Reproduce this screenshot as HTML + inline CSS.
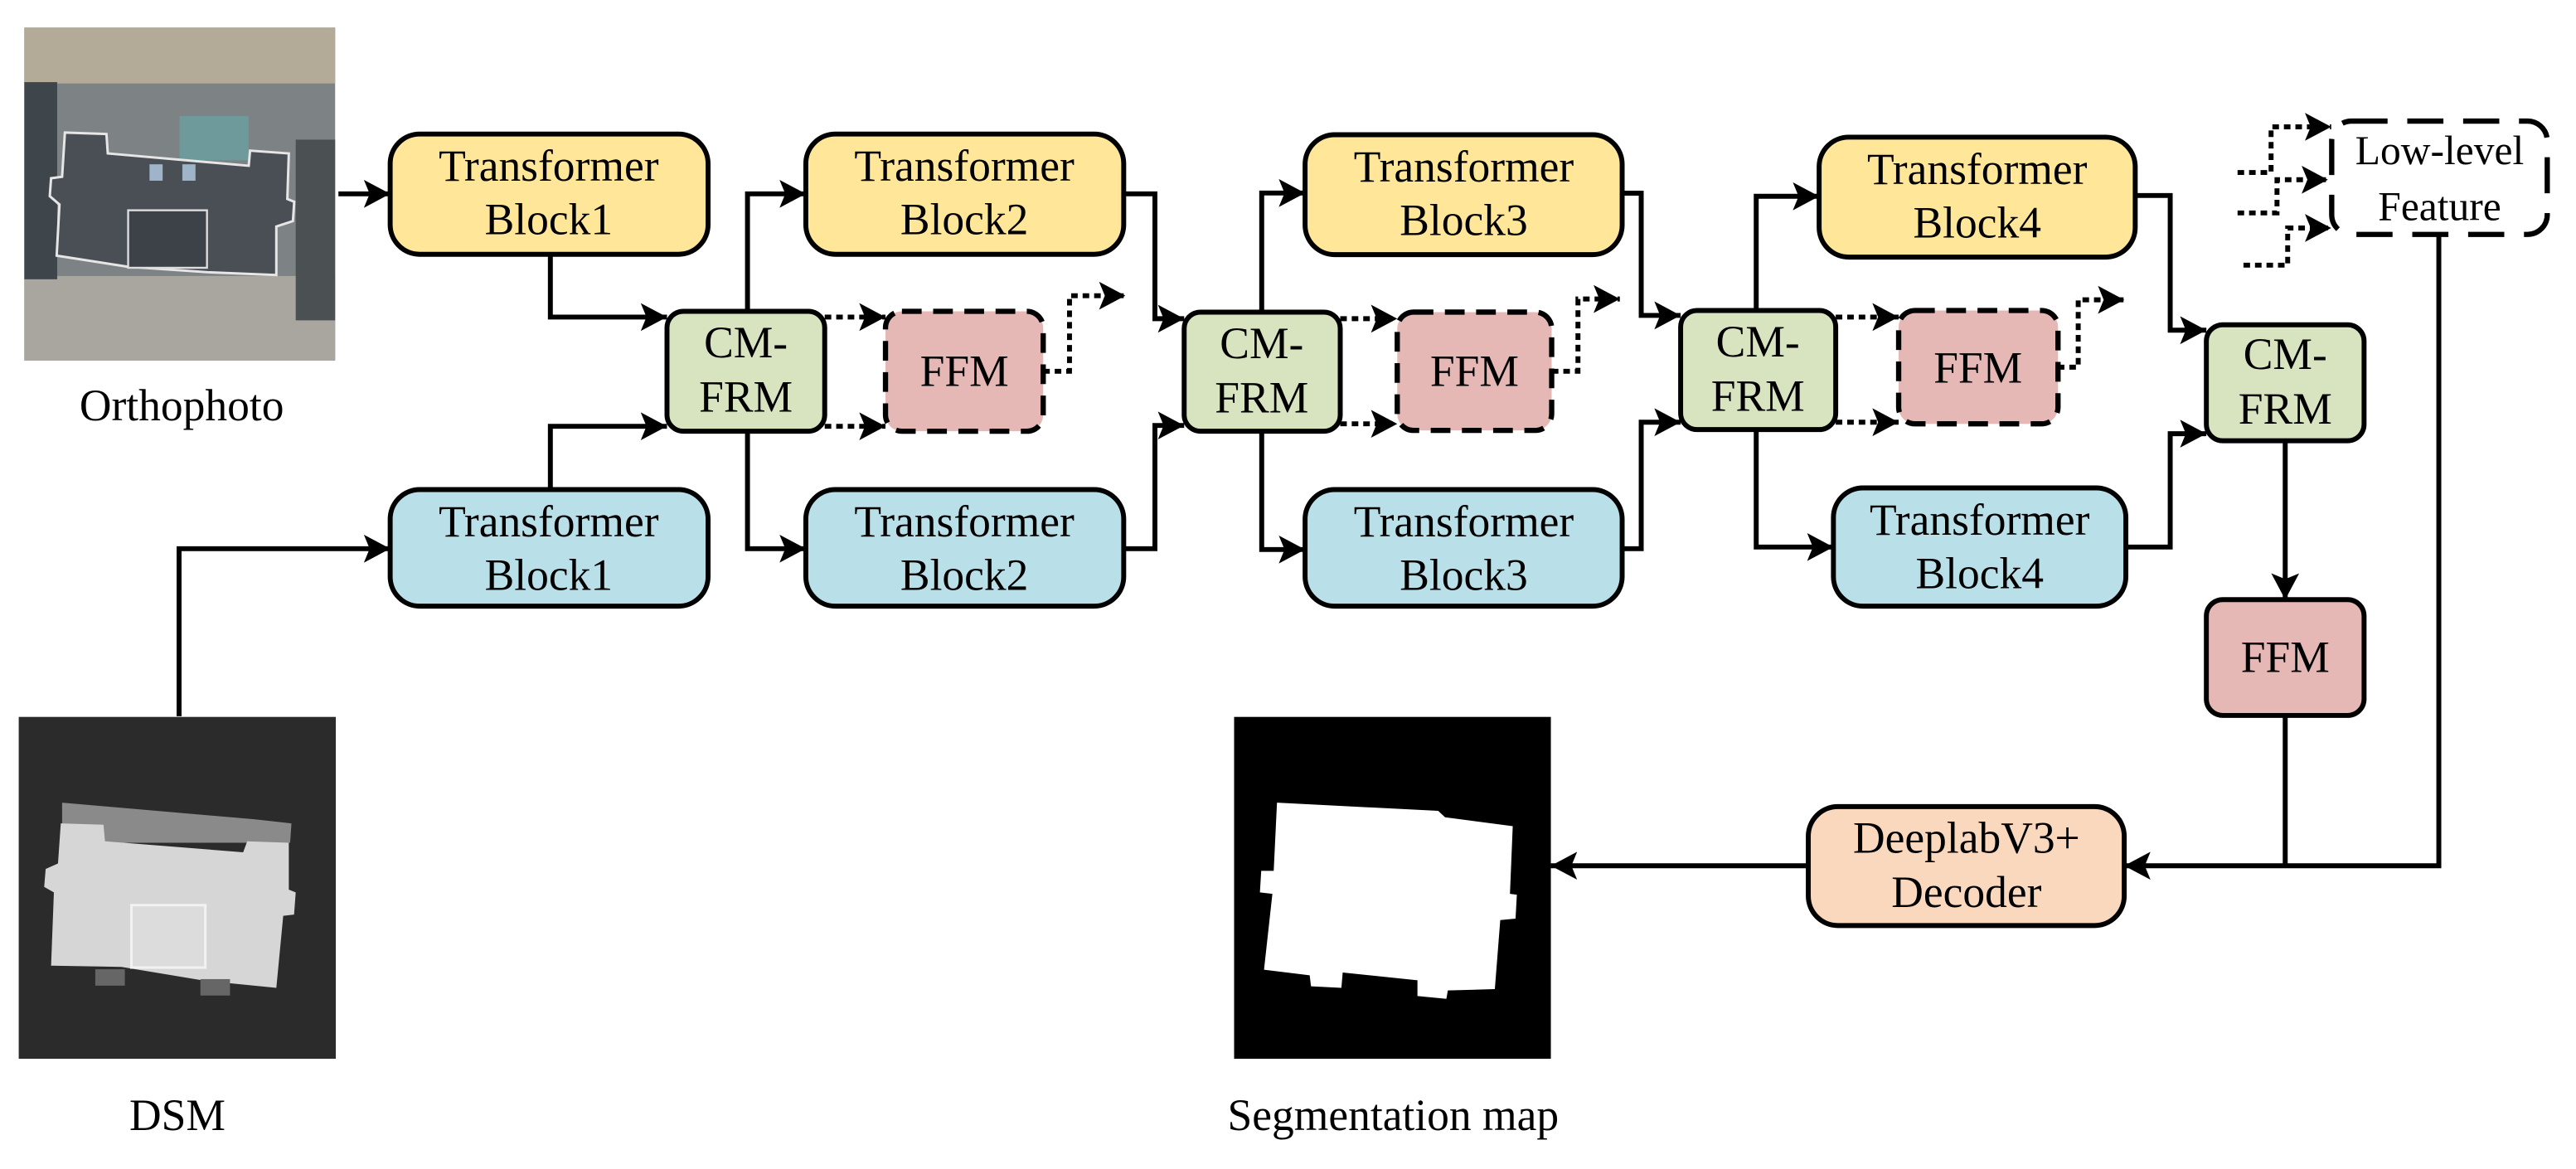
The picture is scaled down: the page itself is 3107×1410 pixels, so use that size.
<!DOCTYPE html>
<html><head><meta charset="utf-8"><style>
html,body{margin:0;padding:0;background:#fff;}
svg{display:block;}
svg text{font-family:"Liberation Serif","Times New Roman",Times,"DejaVu Serif",serif;font-size:27px;fill:#000;text-anchor:middle;}
</style></head><body>
<svg width="3107" height="1410" viewBox="0 0 1568 711.6" preserveAspectRatio="none" xmlns="http://www.w3.org/2000/svg" font-family="Liberation Serif, Times New Roman, serif">
<defs>
<marker id="a" markerUnits="userSpaceOnUse" markerWidth="18" markerHeight="18" refX="16" refY="8.5" orient="auto">
<path d="M0,0 L16,8.5 L0,17 L3.5,8.5 z" fill="#000"/>
</marker>
</defs>
<rect x="0" y="0" width="1568" height="711.6" fill="#fff"/>

<!-- Orthophoto -->
<g>
<rect x="14.8" y="16.8" width="189.2" height="202.7" fill="#7d8284"/>
<rect x="14.8" y="16.8" width="189.2" height="34" fill="#b3aa98"/>
<rect x="14.8" y="168" width="189.2" height="51.5" fill="#a9a69f"/>
<rect x="14.8" y="50" width="20" height="120" fill="#3e454b"/>
<rect x="180" y="85" width="24" height="110" fill="#4b5152"/>
<rect x="109.3" y="70.6" width="42" height="27" fill="#6f9a9c"/>
<polygon points="39.5,80.7 64.8,81.6 65.6,93.4 151.4,100.9 152.2,91.7 175.8,93.4 174.9,121.1 179.1,122.8 178.3,134.6 168.2,137.9 168.2,167.4 126.2,165.7 77.4,162.3 34.5,155.6 36.2,124.5 30.3,119.4 31.1,108.5 37.8,107.6" fill="#4a4f56" stroke="#e6e6e6" stroke-width="1.5"/>
<rect x="91" y="100" width="8" height="10" fill="#9fb4c8"/>
<rect x="111" y="100" width="8" height="10" fill="#9fb4c8"/>
<rect x="78" y="128" width="48" height="35" fill="#3d4248" stroke="#ddd" stroke-width="1.2"/>
</g>
<text x="110.6" y="256">Orthophoto</text>

<!-- DSM -->
<g>
<rect x="11.4" y="436.4" width="193" height="208.1" fill="#2b2b2b"/>
<polygon points="37.8,488.6 154.7,498.7 177.4,501.2 176.6,513 37.8,513" fill="#8a8a8a"/>
<polygon points="37,501.2 63,502 63.9,512.1 148,518.8 150.5,512.1 175.8,513 175.8,541.5 180,543.2 179,556.7 172.4,557.5 168.2,601.3 124.5,597 74,588.6 31.1,587.8 32.8,543.2 26.9,539.9 27.8,529 35.3,525.6" fill="#d6d6d6"/>
<rect x="80" y="551" width="45" height="38" fill="#dcdcdc" stroke="#f2f2f2" stroke-width="1.5"/>
<rect x="58" y="590" width="18" height="10" fill="#666"/>
<rect x="122" y="596" width="18" height="10" fill="#666"/>
</g>
<text x="108" y="688">DSM</text>

<!-- Segmentation map -->
<rect x="751.2" y="436.4" width="192.8" height="208.1" fill="#000"/>
<polygon points="777.3,488.6 875.4,493.6 879.6,497.5 920.8,502.9 919.1,544.1 923.3,544.6 922.5,559.2 913.2,560.1 909.9,602.1 881.3,602.9 880.4,608 862.8,606.3 862.8,596.7 817.3,592 816.5,601.3 798,600.4 797.2,593.7 769.4,590.3 774.5,544.1 766.9,543.2 767.7,530.1 775.3,530.1" fill="#fff"/>
<text x="848" y="688">Segmentation map</text>

<!-- connectors -->
<g fill="none" stroke="#000" stroke-width="3" stroke-linejoin="miter">
<path d="M206,118 H237.5" marker-end="url(#a)"/>
<path d="M335,155 V193 H406" marker-end="url(#a)"/>
<path d="M335,298 V259.5 H406" marker-end="url(#a)"/>
<path d="M109,436 V334 H237.5" marker-end="url(#a)"/>
<path d="M455,189.5 V118 H490.5" marker-end="url(#a)"/>
<path d="M455,262.5 V334 H490.5" marker-end="url(#a)"/>
<path d="M684,118 H703 V194 H720.8" marker-end="url(#a)"/>
<path d="M684,334 H703 V259 H720.8" marker-end="url(#a)"/>
<path d="M768,190 V117.5 H794.4" marker-end="url(#a)"/>
<path d="M768,262.5 V334.5 H794.4" marker-end="url(#a)"/>
<path d="M987,117.6 H999 V192 H1023" marker-end="url(#a)"/>
<path d="M987,334 H999 V257 H1023" marker-end="url(#a)"/>
<path d="M1069,189 V119.5 H1107.3" marker-end="url(#a)"/>
<path d="M1069,261.5 V333 H1116" marker-end="url(#a)"/>
<path d="M1299.7,119 H1321 V201 H1343" marker-end="url(#a)"/>
<path d="M1294,333 H1321 V264 H1343" marker-end="url(#a)"/>
<path d="M1391,268.3 V365" marker-end="url(#a)"/>
<path d="M1391,435.5 V527"/>
<path d="M1484.5,142.8 V527 H1293" marker-end="url(#a)"/>
<path d="M1100.7,527 H944" marker-end="url(#a)"/>
</g>
<!-- dotted connectors -->
<g fill="none" stroke="#000" stroke-width="3" stroke-dasharray="4 3">
<path d="M502,193 H539" marker-end="url(#a)"/>
<path d="M502,259.5 H539" marker-end="url(#a)"/>
<path d="M635,226 H651 V180 H685" marker-end="url(#a)"/>
<path d="M815.8,194 H850.5" marker-end="url(#a)"/>
<path d="M815.8,258 H850.5" marker-end="url(#a)"/>
<path d="M944.6,226 H960.5 V182 H986" marker-end="url(#a)"/>
<path d="M1117.4,193 H1155.7" marker-end="url(#a)"/>
<path d="M1117.4,257 H1155.7" marker-end="url(#a)"/>
<path d="M1252.6,223.5 H1265 V182.5 H1293" marker-end="url(#a)"/>
<path d="M1362,105 H1382.4 V77.2 H1419" marker-end="url(#a)"/>
<path d="M1362,129.6 H1386 V109.4 H1417" marker-end="url(#a)"/>
<path d="M1365.6,161.4 H1392.5 V138.8 H1419" marker-end="url(#a)"/>
</g>

<!-- boxes -->
<g stroke="#000" stroke-width="3">
<rect x="237.5" y="81.6" width="193.5" height="73.2" rx="18" fill="#FFE699"/>
<rect x="490.5" y="81.6" width="193.5" height="73.2" rx="18" fill="#FFE699"/>
<rect x="794.4" y="82" width="193" height="73" rx="18" fill="#FFE699"/>
<rect x="1107.3" y="83.5" width="192.4" height="73" rx="18" fill="#FFE699"/>
<rect x="237.5" y="298" width="193.5" height="71" rx="18" fill="#B9DFE8"/>
<rect x="490.5" y="298" width="193.5" height="71" rx="18" fill="#B9DFE8"/>
<rect x="794.4" y="298" width="193" height="71" rx="18" fill="#B9DFE8"/>
<rect x="1116" y="297" width="178" height="72" rx="18" fill="#B9DFE8"/>
<rect x="406" y="189.5" width="96" height="73" rx="10" fill="#D8E4C0"/>
<rect x="720.8" y="190" width="95" height="72.5" rx="10" fill="#D8E4C0"/>
<rect x="1023" y="189" width="94.4" height="72.5" rx="10" fill="#D8E4C0"/>
<rect x="1343" y="197.7" width="96" height="70.6" rx="10" fill="#D8E4C0"/>
<rect x="1343" y="365" width="96" height="70.5" rx="10" fill="#E5B8B6"/>
<rect x="1100.7" y="491" width="192.3" height="72.4" rx="18" fill="#F9D8BE"/>
</g>
<g stroke="#000" stroke-width="3.2" stroke-dasharray="12 7">
<rect x="539" y="189.5" width="96" height="73" rx="10" fill="#E5B8B6"/>
<rect x="850.5" y="190" width="94" height="72" rx="10" fill="#E5B8B6"/>
<rect x="1155.7" y="189" width="97" height="69" rx="10" fill="#E5B8B6"/>
<rect x="1419.3" y="73.7" width="131.2" height="69" rx="12" fill="#fff" stroke-dasharray="22 12"/>
</g>

<!-- labels -->
<text x="334" y="110">Transformer</text><text x="334" y="142.5">Block1</text>
<text x="587" y="110">Transformer</text><text x="587" y="142.5">Block2</text>
<text x="891" y="110.5">Transformer</text><text x="891" y="143">Block3</text>
<text x="1203.5" y="112">Transformer</text><text x="1203.5" y="144.5">Block4</text>
<text x="334" y="326.5">Transformer</text><text x="334" y="359">Block1</text>
<text x="587" y="326.5">Transformer</text><text x="587" y="359">Block2</text>
<text x="891" y="326.5">Transformer</text><text x="891" y="359">Block3</text>
<text x="1205" y="325.5">Transformer</text><text x="1205" y="358">Block4</text>
<text x="454" y="217.5">CM-</text><text x="454" y="250.5">FRM</text>
<text x="768" y="218">CM-</text><text x="768" y="251">FRM</text>
<text x="1070" y="217">CM-</text><text x="1070" y="250">FRM</text>
<text x="1391" y="224.5">CM-</text><text x="1391" y="258">FRM</text>
<text x="587" y="235">FFM</text>
<text x="897.5" y="235">FFM</text>
<text x="1204" y="233">FFM</text>
<text x="1391" y="409">FFM</text>
<text x="1485" y="100" style="font-size:25px">Low-level</text>
<text x="1485" y="134" style="font-size:25px">Feature</text>
<text x="1197" y="519">DeeplabV3+</text>
<text x="1197" y="552">Decoder</text>
</svg>
</body></html>
